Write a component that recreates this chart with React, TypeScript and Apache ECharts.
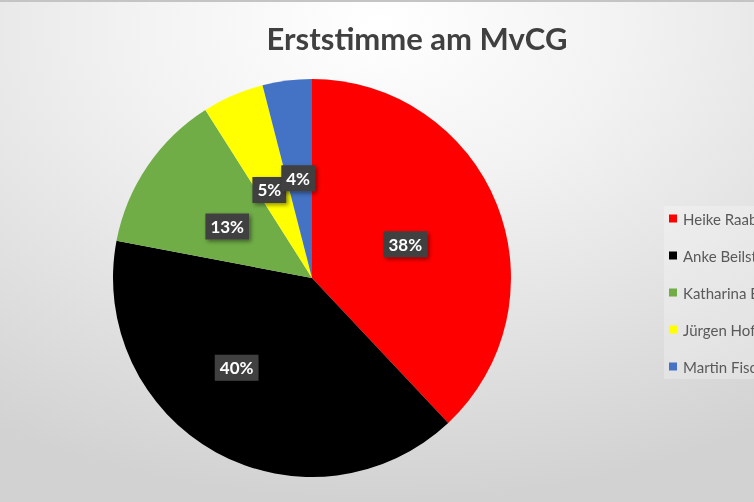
import { useEffect, useRef } from "react";
import * as echarts from "echarts";

const candidates = ["Heike Raab", "Anke Beilst", "Katharina B", "Jürgen Hof", "Martin Fisc"];
const shares = [38, 40, 13, 5, 4];
const colors = ["#ff0000", "#000000", "#70ad47", "#ffff00", "#4472c4"];

// nudges so the labels sit where the spreadsheet put them
const labelShift = [[-2, 4], [-26, 0], [0, 6], [-2, 6], [-1, 2]];

export default function App() {
  const ref = useRef<HTMLDivElement>(null);

  useEffect(() => {
    if (!ref.current) return;
    const chart = echarts.init(ref.current, null, { renderer: "svg" });
    const font = "Lato, 'Open Sans', sans-serif";

    chart.setOption({
      animation: false,
      backgroundColor: {
        type: "radial", x: 0.5, y: 0.05, r: 0.95,
        colorStops: [
          { offset: 0, color: "#ffffff" },
          { offset: 0.35, color: "#f2f2f2" },
          { offset: 1, color: "#d2d2d2" },
        ],
      },
      graphic: [
        { type: "rect", left: 0, top: 0, shape: { width: 754, height: 2 }, style: { fill: "#c4c4c4" }, silent: true },
      ],
      title: {
        text: "Erststimme am MvCG",
        left: 412, top: 17, textAlign: "center",
        textStyle: { fontFamily: font, fontSize: 31, fontWeight: "bold", color: "#404040" },
      },
      legend: {
        orient: "vertical", left: 664, top: 206,
        itemWidth: 8, itemHeight: 8, itemGap: 22, icon: "rect",
        data: candidates,
        textStyle: { fontFamily: font, fontSize: 15, color: "#595959", lineHeight: 14, padding: [0, 0, 0, 1] },
        backgroundColor: "rgba(255,255,255,0.25)",
      },
      series: [{
        type: "pie",
        center: [312, 278], radius: 199,
        startAngle: 90, clockwise: true,
        data: candidates.map((name, i) => ({ name, value: shares[i], itemStyle: { color: colors[i] } })),
        label: {
          position: "inside",
          formatter: "{c}%",
          fontFamily: font, fontSize: 17, fontWeight: "bold", color: "#ffffff",
          backgroundColor: "#404040", padding: [5, 5, 4, 5],
          shadowColor: "rgba(0,0,0,0.45)", shadowBlur: 4, shadowOffsetX: 2, shadowOffsetY: 2,
        },
        labelLayout: (p: any) => ({ hideOverlap: false, dx: labelShift[p.dataIndex][0], dy: labelShift[p.dataIndex][1] }),
        labelLine: { show: false },
        emphasis: { disabled: true },
      }],
    });

    return () => chart.dispose();
  }, []);

  return <div ref={ref} style={{ position: "fixed", left: 0, top: 0, width: 754, height: 502 }} />;
}
